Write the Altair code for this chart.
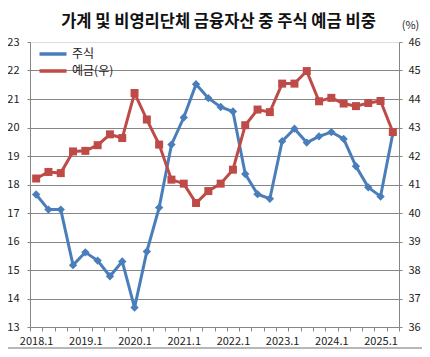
import altair as alt
import pandas as pd

quarters = ["2018.1", "2018.2", "2018.3", "2018.4",
            "2019.1", "2019.2", "2019.3", "2019.4",
            "2020.1", "2020.2", "2020.3", "2020.4",
            "2021.1", "2021.2", "2021.3", "2021.4",
            "2022.1", "2022.2", "2022.3", "2022.4",
            "2023.1", "2023.2", "2023.3", "2023.4",
            "2024.1", "2024.2", "2024.3", "2024.4",
            "2025.1", "2025.2"]

stock = [17.65, 17.12, 17.12, 15.17, 15.62, 15.33, 14.78, 15.30,
         13.68, 15.65, 17.19, 19.40, 20.35, 21.52, 21.03, 20.72,
         20.56, 18.37, 17.66, 17.50, 19.52, 19.96, 19.47, 19.69,
         19.84, 19.60, 18.64, 17.90, 17.58, 19.80]

deposit = [41.21, 41.44, 41.40, 42.16, 42.18, 42.38, 42.76, 42.63,
           44.21, 43.28, 42.40, 41.17, 41.03, 40.35, 40.77, 41.03,
           41.52, 43.08, 43.63, 43.54, 44.54, 44.54, 44.98, 43.92,
           44.04, 43.84, 43.75, 43.86, 43.93, 42.84]

series_names = ["주식", "예금(우)"]
series_colors = ["#4A7EBB", "#BE4B48"]
left_ticks = [13, 14, 15, 16, 17, 18, 19, 20, 21, 22, 23]
right_ticks = [36, 37, 38, 39, 40, 41, 42, 43, 44, 45, 46]
title_text = "가계 및 비영리단체 금융자산 중 주식 예금 비중"

df = pd.DataFrame({
    "quarter": quarters * 2,
    "series": [series_names[0]] * len(quarters) + [series_names[1]] * len(quarters),
    "value": stock + deposit,
})

FONT = "Noto Sans CJK KR"
GRAY = "#868686"

x_enc = alt.X(
    "quarter:N", sort=quarters, title=None,
    scale=alt.Scale(type="band", paddingInner=0, paddingOuter=0),
    axis=alt.Axis(
        labelAngle=0, labelOverlap=False, tickBand="extent",
        labelExpr="slice(datum.label, -2) == '.1' ? datum.label : ''",
        tickSize=4, labelPadding=4, domainColor=GRAY, tickColor=GRAY,
        labelFont=FONT, labelFontSize=11, labelColor="#222222", grid=False,
    ),
)

color_enc = alt.Color(
    "series:N",
    scale=alt.Scale(domain=series_names, range=series_colors),
    legend=alt.Legend(
        title=None, orient="none", legendX=16, legendY=5,
        symbolType="M-2.7,0H2.7", symbolStrokeWidth=3.5, symbolSize=100,
        labelFont=FONT, labelFontSize=12, labelColor="#222222",
        rowPadding=3, labelOffset=12,
    ),
)

stock_layer = alt.Chart(df).transform_filter(
    alt.datum.series == series_names[0]
).mark_line(
    strokeWidth=3,
    point=alt.OverlayMarkDef(shape="diamond", size=70, filled=True, opacity=1),
).encode(
    x=x_enc,
    y=alt.Y(
        "value:Q", title=None,
        scale=alt.Scale(domain=[13, 23], nice=False, zero=False),
        axis=alt.Axis(
            orient="left", values=left_ticks, tickSize=3, labelPadding=8,
            domainColor=GRAY, tickColor=GRAY, grid=True,
            gridColor={"condition": {"test": "datum.value == 23 || datum.value == 13",
                                     "value": "transparent"}, "value": GRAY},
            labelFont=FONT, labelFontSize=11, labelColor="#222222",
        ),
    ),
    color=color_enc,
)

deposit_layer = alt.Chart(df).transform_filter(
    alt.datum.series == series_names[1]
).mark_line(
    strokeWidth=3,
    point=alt.OverlayMarkDef(shape="square", size=64, filled=True, opacity=1),
).encode(
    x=x_enc,
    y=alt.Y(
        "value:Q", title="(%)",
        scale=alt.Scale(domain=[36, 46], nice=False, zero=False),
        axis=alt.Axis(
            orient="right", values=right_ticks, tickSize=3, labelPadding=6,
            domainColor=GRAY, tickColor=GRAY, grid=False,
            labelFont=FONT, labelFontSize=11, labelColor="#222222",
            titleAngle=0, titleX=11, titleY=-17, titleAlign="center",
            titleBaseline="middle", titleFont=FONT, titleFontSize=11,
            titleFontWeight="normal", titleColor="#222222",
        ),
    ),
    color=color_enc,
)

border = alt.Chart(pd.DataFrame({"v": [0]})).mark_rule(
    color="#A0A0A0", strokeWidth=1.5
).encode(
    x=alt.value(-22), x2=alt.value(392), y=alt.value(306)
)

chart = alt.layer(stock_layer, deposit_layer, border).resolve_scale(
    y="independent"
).properties(
    width=369, height=285,
    autosize=alt.AutoSizeParams(type="none"),
    padding={"left": 22, "top": 34, "right": 23, "bottom": 22},
    title=alt.TitleParams(
        title_text, font=FONT, fontSize=16.5, fontWeight="bold",
        color="#111111", anchor="middle", frame="group",
        baseline="middle", offset=0, dx=4, dy=19,
    ),
).configure_view(stroke=None).configure(background="white")

chart.save("out.html", embed_options={"renderer": "svg", "actions": False})
